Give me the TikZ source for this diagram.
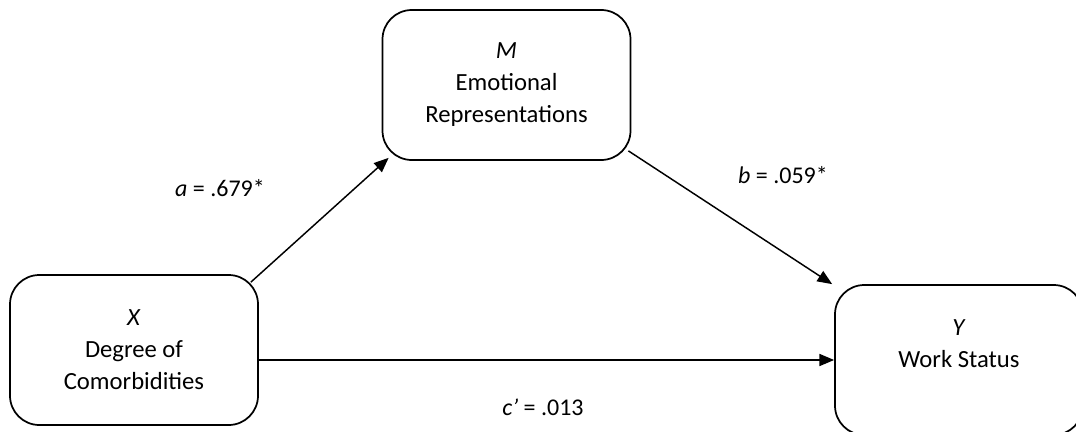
\documentclass[tikz,border=0pt]{standalone}
\usepackage{fontspec}
\setmainfont{Carlito}
\usetikzlibrary{arrows.meta}

\tikzset{
  varbox/.style={draw, line width=1.3pt, rounded corners=22pt, align=center,
    minimum width=186pt, minimum height=112.5pt, inner sep=0pt,
    font=\fontsize{18.5}{24}\selectfont},
  path/.style={-{Triangle[length=11pt,width=9pt]}, line width=1.1pt},
  coef/.style={font=\fontsize{18}{22}\selectfont}
}

\begin{document}
\begin{tikzpicture}[x=0.75pt, y=-0.75pt]
  \useasboundingbox (0,0) rectangle (1076,432);
  \clip (0,0) rectangle (1076,432);

  % Variables
  \node[varbox] (X) at (134,350) {\textit{X}\\Degree of\\Comorbidities};
  \node[varbox] (M) at (506.5,85) {\textit{M}\\Emotional\\Representations};
  \node[varbox] (Y) at (959,360) {\textit{Y}\\Work Status\\~};

  % Paths
  \draw[path] ([shift={(-8,8)}]X.north east) -- ([shift={(7,-3)}]M.south west);
  \draw[path] ([shift={(-3,-10)}]M.south east) -- ([shift={(-2,0)}]Y.north west);
  \draw[path] (X.east |- Y.west) -- (Y.west);

  % Coefficients
  \node[coef] (la) at (220,188) {\textit{a} = .679*};
  \node[coef] (lb) at (783,175) {\textit{b} = .059*};
  \node[coef] (lc) at (543,407) {\textit{c’} = .013};
\end{tikzpicture}
\end{document}
